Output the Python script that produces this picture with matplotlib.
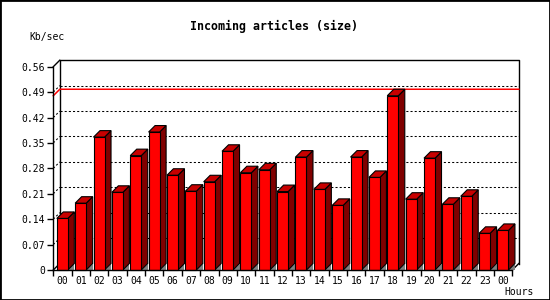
import matplotlib
matplotlib.use('Agg')
import matplotlib.pyplot as plt
from matplotlib.patches import Polygon, Rectangle

# data
hours = ['00', '01', '02', '03', '04', '05', '06', '07', '08', '09', '10', '11',
         '12', '13', '14', '15', '16', '17', '18', '19', '20', '21', '22', '23', '00']
kb_sec = [0.142, 0.184, 0.366, 0.214, 0.315, 0.380, 0.261, 0.217, 0.243, 0.327, 0.268, 0.276,
          0.216, 0.311, 0.222, 0.178, 0.311, 0.255, 0.480, 0.195, 0.308, 0.181, 0.203, 0.101, 0.109]
y_ticks = [0, 0.07, 0.14, 0.21, 0.28, 0.35, 0.42, 0.49, 0.56]
y_labels = ['0', '0.07', '0.14', '0.21', '0.28', '0.35', '0.42', '0.49', '0.56']

plt.rcParams['font.family'] = 'DejaVu Sans Mono'

fig = plt.figure(figsize=(5.5, 3), dpi=100)
ax = fig.add_axes([53.3 / 550, 30 / 300, 459 / 550, (270 - 66.7) / 300])
n = len(kb_sec)
ymax = y_ticks[-1]
ax.set_xlim(0, n)
ax.set_ylim(0, ymax)

# 3d depth in data units (about 6.5 px each way)
dx = 6.5 / (459 / n)
dy = 6.5 / (203.3 / ymax)

# back wall frame
kw = dict(color='black', lw=1, clip_on=False, zorder=1)
ax.plot([dx, dx, n + dx, n + dx], [dy, ymax + dy, ymax + dy, dy], **kw)
ax.plot([0, dx], [ymax, ymax + dy], **kw)
ax.plot([n, n + dx], [0, dy], **kw)
ax.plot([0, dx], [0, dy], **kw)

# dashed grid on back wall and left wall
for v in y_ticks[1:-1]:
    ax.plot([dx, n + dx], [v + dy, v + dy], color='black', lw=0.75,
            ls=(0, (2, 2)), clip_on=False, zorder=1)
    ax.plot([0, dx], [v, v + dy], color='black', lw=0.75,
            ls=(0, (2, 2)), clip_on=False, zorder=1)

# red line at the maximum
top = max(kb_sec)
ax.plot([0, dx, n + dx], [top, top + dy, top + dy], color='red', lw=1.1,
        clip_on=False, zorder=2)

# 3d bars
w = 0.6
for i, v in enumerate(kb_sec):
    x0 = i + 0.19
    x1 = x0 + w
    ax.add_patch(Polygon([(x1, 0), (x1 + dx, 0), (x1 + dx, dy)], closed=True,
                         facecolor='#808080', edgecolor='none', zorder=3, clip_on=False))
    ax.add_patch(Polygon([(x1, 0), (x1 + dx, dy), (x1 + dx, v + dy), (x1, v)], closed=True,
                         facecolor='#800000', edgecolor='black', lw=0.8, zorder=4, clip_on=False))
    ax.add_patch(Polygon([(x0, v), (x1, v), (x1 + dx, v + dy), (x0 + dx, v + dy)], closed=True,
                         facecolor='#c80000', edgecolor='black', lw=0.8, zorder=4, clip_on=False))
    ax.add_patch(Rectangle((x0, 0), w, v, facecolor='#ff0000', edgecolor='black',
                           lw=0.8, zorder=5, clip_on=False))

# axes
for s in ['top', 'right']:
    ax.spines[s].set_visible(False)
for s in ['left', 'bottom']:
    ax.spines[s].set_linewidth(1)
    ax.spines[s].set_zorder(6)
ax.set_yticks(y_ticks)
ax.set_yticklabels(y_labels, fontsize=7)
ax.set_xticks(range(n + 1))
ax.set_xticklabels([])
ax.set_xticks([i + 0.5 for i in range(n)], minor=True)
ax.set_xticklabels(hours, minor=True, fontsize=7)
ax.tick_params(axis='y', length=4, width=1, pad=2)
ax.tick_params(axis='x', which='major', length=4, width=1)
ax.tick_params(axis='x', which='minor', length=0, pad=4)
ax.patch.set_visible(False)

fig.text(273.5 / 550, 1 - 26.5 / 300, 'Incoming articles (size)', ha='center', va='center',
         fontsize=8.4, fontweight='bold')
fig.text(47.5 / 550, 1 - 36.7 / 300, 'Kb/sec', ha='center', va='center', fontsize=7)
fig.text(519 / 550, 1 - 292 / 300, 'Hours', ha='center', va='center', fontsize=7)

fig.add_artist(Rectangle((0, 0), 1, 1, transform=fig.transFigure, fill=False,
                         edgecolor='black', lw=2))

fig.savefig('out.png', dpi=100)
